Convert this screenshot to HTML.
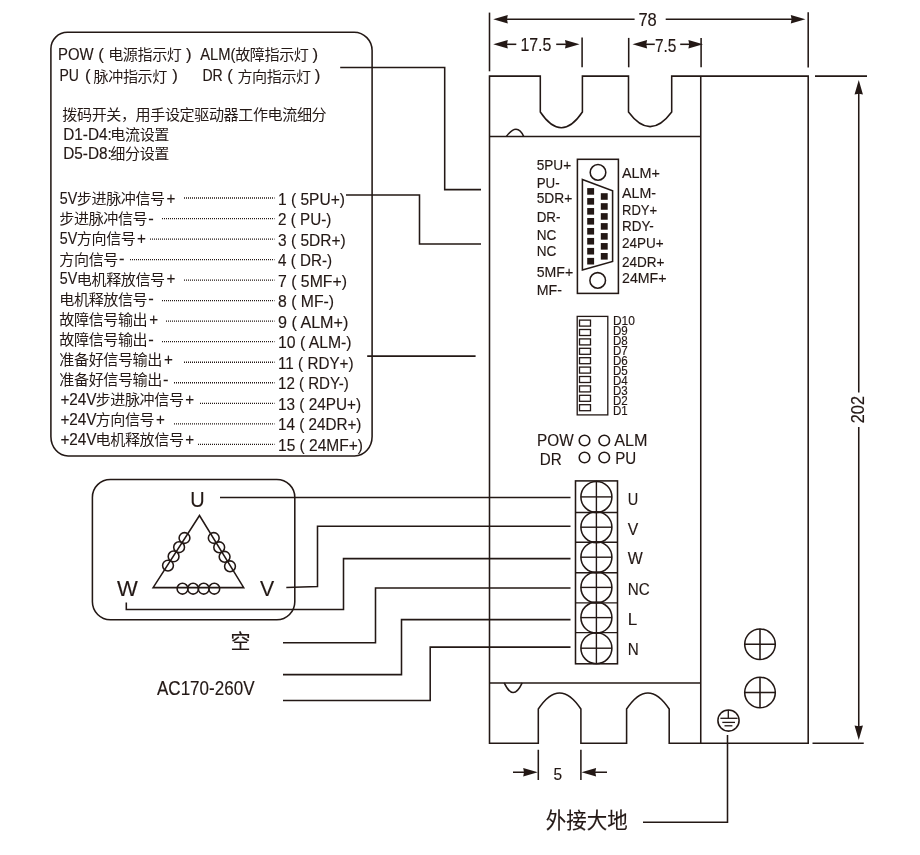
<!DOCTYPE html>
<html lang="zh-CN">
<head>
<meta charset="utf-8">
<title>驱动器接线图</title>
<style>
html,body{margin:0;padding:0;background:#fff;}
body{width:920px;height:855px;overflow:hidden;}
svg{display:block;will-change:transform;}
svg text{font-family:"Liberation Sans","Noto Sans CJK SC",sans-serif;fill:#231815;}
svg line,svg path,svg circle,svg rect{fill:none;stroke:#231815;}
svg .f{fill:#231815;stroke:none;}
svg text{stroke:#231815;stroke-width:0.15px;}
svg text.c{stroke:none;}
</style>
</head>
<body>
<svg width="920" height="855" viewBox="0 0 920 855">
<rect x="0" y="0" width="920" height="855" style="fill:#fff;stroke:none"/>
<path d="M67.4,32.3 H354.1 A18,18.3 0 0 1 372.1,50.6 V436.4 A17.5,19.5 0 0 1 354.6,455.9 H68.1 A17.2,19.5 0 0 1 50.9,436.4 V48.8 A16.5,16.5 0 0 1 67.4,32.3 Z" stroke-width="1.55" />
<text x="58.0" y="60.0" font-size="16.2" textLength="35.6" lengthAdjust="spacingAndGlyphs" >POW</text>
<text x="98.3" y="60.0" font-size="16.2" textLength="5.6" lengthAdjust="spacingAndGlyphs" >(</text>
<text transform="translate(108.2,60.2) scale(1.04,1)" font-size="14.5" letter-spacing="-0.39" class="c">电源指示灯</text>
<text x="185.9" y="60.0" font-size="16.2" textLength="5.6" lengthAdjust="spacingAndGlyphs" >)</text>
<text x="200.3" y="60.0" font-size="16.2" textLength="35.2" lengthAdjust="spacingAndGlyphs" >ALM(</text>
<text transform="translate(235.2,60.2) scale(1.04,1)" font-size="14.5" letter-spacing="-0.39" class="c">故障指示灯</text>
<text x="312.6" y="60.0" font-size="16.2" textLength="5.6" lengthAdjust="spacingAndGlyphs" >)</text>
<text x="59.5" y="81.3" font-size="16.2" textLength="19.5" lengthAdjust="spacingAndGlyphs" >PU</text>
<text x="85.0" y="81.3" font-size="16.2" textLength="5.6" lengthAdjust="spacingAndGlyphs" >(</text>
<text transform="translate(93.6,81.5) scale(1.04,1)" font-size="14.5" letter-spacing="-0.39" class="c">脉冲指示灯</text>
<text x="172.3" y="81.3" font-size="16.2" textLength="5.6" lengthAdjust="spacingAndGlyphs" >)</text>
<text x="202.4" y="81.3" font-size="16.2" textLength="20.3" lengthAdjust="spacingAndGlyphs" >DR</text>
<text x="227.2" y="81.3" font-size="16.2" textLength="5.6" lengthAdjust="spacingAndGlyphs" >(</text>
<text transform="translate(237.4,81.5) scale(1.04,1)" font-size="14.5" letter-spacing="-0.39" class="c">方向指示灯</text>
<text x="314.8" y="81.3" font-size="16.2" textLength="5.6" lengthAdjust="spacingAndGlyphs" >)</text>
<text transform="translate(62.3,120.3) scale(1.04,1)" font-size="14.5" letter-spacing="-0.39" class="c">拨码开关，用手设定驱动器工作电流细分</text>
<text x="63.2" y="139.7" font-size="16.2" textLength="48.7" lengthAdjust="spacingAndGlyphs" >D1-D4:</text>
<text transform="translate(110.3,139.9) scale(1.04,1)" font-size="14.5" letter-spacing="-0.39" class="c">电流设置</text>
<text x="63.2" y="158.7" font-size="16.2" textLength="48.7" lengthAdjust="spacingAndGlyphs" >D5-D8:</text>
<text transform="translate(110.3,158.9) scale(1.04,1)" font-size="14.5" letter-spacing="-0.39" class="c">细分设置</text>
<text x="59.8" y="204.1" font-size="16.2" textLength="17.5" lengthAdjust="spacingAndGlyphs" >5V</text>
<text transform="translate(76.8,204.3) scale(1.04,1)" font-size="14.5" letter-spacing="-0.39" class="c">步进脉冲信号</text>
<text x="166.42" y="204.1" font-size="16.2" textLength="8.9" lengthAdjust="spacingAndGlyphs" >+</text>
<line x1="184" y1="198.0" x2="274.5" y2="198.0" stroke-width="1.3" stroke-dasharray="1 1"/>
<text x="278.0" y="204.5" font-size="17" textLength="67.0" lengthAdjust="spacingAndGlyphs" >1 ( 5PU+)</text>
<text transform="translate(59.3,224.37) scale(1.04,1)" font-size="14.5" letter-spacing="-0.39" class="c">步进脉冲信号</text>
<text x="148.32" y="224.17" font-size="16.2" textLength="5.5" lengthAdjust="spacingAndGlyphs" >-</text>
<line x1="162" y1="218.53" x2="274.5" y2="218.53" stroke-width="1.3" stroke-dasharray="1 1"/>
<text x="278.0" y="225.03" font-size="17" textLength="53.3" lengthAdjust="spacingAndGlyphs" >2 ( PU-)</text>
<text x="59.8" y="244.24" font-size="16.2" textLength="17.5" lengthAdjust="spacingAndGlyphs" >5V</text>
<text transform="translate(76.8,244.44) scale(1.04,1)" font-size="14.5" letter-spacing="-0.39" class="c">方向信号</text>
<text x="137.08" y="244.24" font-size="16.2" textLength="8.9" lengthAdjust="spacingAndGlyphs" >+</text>
<line x1="150" y1="239.06" x2="274.5" y2="239.06" stroke-width="1.3" stroke-dasharray="1 1"/>
<text x="278.0" y="245.56" font-size="17" textLength="67.8" lengthAdjust="spacingAndGlyphs" >3 ( 5DR+)</text>
<text transform="translate(59.3,264.51) scale(1.04,1)" font-size="14.5" letter-spacing="-0.39" class="c">方向信号</text>
<text x="118.98" y="264.31" font-size="16.2" textLength="5.5" lengthAdjust="spacingAndGlyphs" >-</text>
<line x1="130" y1="259.59" x2="274.5" y2="259.59" stroke-width="1.3" stroke-dasharray="1 1"/>
<text x="278.0" y="266.09" font-size="17" textLength="54.1" lengthAdjust="spacingAndGlyphs" >4 ( DR-)</text>
<text x="59.8" y="284.38" font-size="16.2" textLength="17.5" lengthAdjust="spacingAndGlyphs" >5V</text>
<text transform="translate(76.8,284.58) scale(1.04,1)" font-size="14.5" letter-spacing="-0.39" class="c">电机释放信号</text>
<text x="166.42" y="284.38" font-size="16.2" textLength="8.9" lengthAdjust="spacingAndGlyphs" >+</text>
<line x1="184" y1="280.12" x2="274.5" y2="280.12" stroke-width="1.3" stroke-dasharray="1 1"/>
<text x="278.0" y="286.62" font-size="17" textLength="69.0" lengthAdjust="spacingAndGlyphs" >7 ( 5MF+)</text>
<text transform="translate(59.3,304.65) scale(1.04,1)" font-size="14.5" letter-spacing="-0.39" class="c">电机释放信号</text>
<text x="148.32" y="304.45" font-size="16.2" textLength="5.5" lengthAdjust="spacingAndGlyphs" >-</text>
<line x1="162" y1="300.65" x2="274.5" y2="300.65" stroke-width="1.3" stroke-dasharray="1 1"/>
<text x="278.0" y="307.15" font-size="17" textLength="56.0" lengthAdjust="spacingAndGlyphs" >8 ( MF-)</text>
<text transform="translate(59.3,324.72) scale(1.04,1)" font-size="14.5" letter-spacing="-0.39" class="c">故障信号输出</text>
<text x="149.22" y="324.52" font-size="16.2" textLength="8.9" lengthAdjust="spacingAndGlyphs" >+</text>
<line x1="166" y1="321.18" x2="274.5" y2="321.18" stroke-width="1.3" stroke-dasharray="1 1"/>
<text x="278.0" y="327.68" font-size="17" textLength="70.3" lengthAdjust="spacingAndGlyphs" >9 ( ALM+)</text>
<text transform="translate(59.3,344.79) scale(1.04,1)" font-size="14.5" letter-spacing="-0.39" class="c">故障信号输出</text>
<text x="148.32" y="344.59" font-size="16.2" textLength="5.5" lengthAdjust="spacingAndGlyphs" >-</text>
<line x1="162" y1="341.71" x2="274.5" y2="341.71" stroke-width="1.3" stroke-dasharray="1 1"/>
<text x="278.0" y="348.21" font-size="17" textLength="73.6" lengthAdjust="spacingAndGlyphs" >10 ( ALM-)</text>
<text transform="translate(59.3,364.86) scale(1.04,1)" font-size="14.5" letter-spacing="-0.39" class="c">准备好信号输出</text>
<text x="163.89" y="364.66" font-size="16.2" textLength="8.9" lengthAdjust="spacingAndGlyphs" >+</text>
<line x1="184" y1="362.24" x2="274.5" y2="362.24" stroke-width="1.3" stroke-dasharray="1 1"/>
<text x="278.0" y="368.74" font-size="17" textLength="75.6" lengthAdjust="spacingAndGlyphs" >11 ( RDY+)</text>
<text transform="translate(59.3,384.93) scale(1.04,1)" font-size="14.5" letter-spacing="-0.39" class="c">准备好信号输出</text>
<text x="162.99" y="384.73" font-size="16.2" textLength="5.5" lengthAdjust="spacingAndGlyphs" >-</text>
<line x1="174" y1="382.77" x2="274.5" y2="382.77" stroke-width="1.3" stroke-dasharray="1 1"/>
<text x="278.0" y="389.27" font-size="17" textLength="70.7" lengthAdjust="spacingAndGlyphs" >12 ( RDY-)</text>
<text x="60.4" y="404.8" font-size="16.2" textLength="36.2" lengthAdjust="spacingAndGlyphs" >+24V</text>
<text transform="translate(95.6,405.0) scale(1.04,1)" font-size="14.5" letter-spacing="-0.39" class="c">步进脉冲信号</text>
<text x="185.22" y="404.8" font-size="16.2" textLength="8.9" lengthAdjust="spacingAndGlyphs" >+</text>
<line x1="200" y1="403.3" x2="274.5" y2="403.3" stroke-width="1.3" stroke-dasharray="1 1"/>
<text x="278.0" y="409.8" font-size="17" textLength="83.0" lengthAdjust="spacingAndGlyphs" >13 ( 24PU+)</text>
<text x="60.4" y="424.87" font-size="16.2" textLength="36.2" lengthAdjust="spacingAndGlyphs" >+24V</text>
<text transform="translate(95.6,425.07) scale(1.04,1)" font-size="14.5" letter-spacing="-0.39" class="c">方向信号</text>
<text x="155.88" y="424.87" font-size="16.2" textLength="8.9" lengthAdjust="spacingAndGlyphs" >+</text>
<line x1="174" y1="423.83" x2="274.5" y2="423.83" stroke-width="1.3" stroke-dasharray="1 1"/>
<text x="278.0" y="430.33" font-size="17" textLength="83.4" lengthAdjust="spacingAndGlyphs" >14 ( 24DR+)</text>
<text x="60.4" y="444.94" font-size="16.2" textLength="36.2" lengthAdjust="spacingAndGlyphs" >+24V</text>
<text transform="translate(95.6,445.14) scale(1.04,1)" font-size="14.5" letter-spacing="-0.39" class="c">电机释放信号</text>
<text x="185.22" y="444.94" font-size="16.2" textLength="8.9" lengthAdjust="spacingAndGlyphs" >+</text>
<line x1="198" y1="444.36" x2="274.5" y2="444.36" stroke-width="1.3" stroke-dasharray="1 1"/>
<text x="278.0" y="450.86" font-size="17" textLength="85.0" lengthAdjust="spacingAndGlyphs" >15 ( 24MF+)</text>
<path d="M340.2,67.5 H444.7 V189.6 H481" stroke-width="1.55" />
<path d="M346,195 H419.5 V244 H481" stroke-width="1.55" />
<path d="M367.2,356.1 H475.6" stroke-width="1.55" />
<rect x="92.4" y="479.4" width="202.4" height="140.3" rx="18" stroke-width="1.55" />
<text x="197.5" y="507" font-size="22" textLength="14.4" lengthAdjust="spacingAndGlyphs" text-anchor="middle" >U</text>
<text x="127.3" y="595.8" font-size="22" textLength="20.8" lengthAdjust="spacingAndGlyphs" text-anchor="middle" >W</text>
<text x="267.1" y="595.8" font-size="22" textLength="14.2" lengthAdjust="spacingAndGlyphs" text-anchor="middle" >V</text>
<path d="M199.5,515.5 L153.1,587.6 L243.7,587.6 Z" stroke-width="1.55" />
<circle cx="182.5" cy="588.7" r="5.4" stroke-width="1.55" />
<circle cx="193.1" cy="588.7" r="5.4" stroke-width="1.55" />
<circle cx="203.7" cy="588.7" r="5.4" stroke-width="1.55" />
<circle cx="214.3" cy="588.7" r="5.4" stroke-width="1.55" />
<circle cx="184.5" cy="538" r="5.4" stroke-width="1.55" />
<circle cx="179.1" cy="547.2" r="5.4" stroke-width="1.55" />
<circle cx="173.6" cy="556.4" r="5.4" stroke-width="1.55" />
<circle cx="168" cy="565.6" r="5.4" stroke-width="1.55" />
<circle cx="213.75" cy="538" r="5.4" stroke-width="1.55" />
<circle cx="219.2" cy="547.3" r="5.4" stroke-width="1.55" />
<circle cx="224.6" cy="556.8" r="5.4" stroke-width="1.55" />
<circle cx="230" cy="566.3" r="5.4" stroke-width="1.55" />
<path d="M220,497.5 H570.5" stroke-width="1.55" />
<path d="M286.3,587.4 L317.5,586.6 V526.3 H570.5" stroke-width="1.55" />
<path d="M126.3,602.5 V609.5 H343.5 V558.6 H570.5" stroke-width="1.55" />
<text x="240.4" y="649.3" font-size="20" text-anchor="middle" >空</text>
<path d="M283,642.7 H375.5 V588 H570.5" stroke-width="1.55" />
<path d="M283,674.6 H401.5 V619.6 H570.5" stroke-width="1.55" />
<text x="157" y="694.9" font-size="19.3" textLength="97.5" lengthAdjust="spacingAndGlyphs" >AC170-260V</text>
<path d="M283,700.4 H430.2 V647.1 H570.5" stroke-width="1.55" />
<path d="M489.5,76.1 H540.3 V112 Q561.35,143.40 582.4,112 V76.1 H628.5 V112 Q650.10,141.20 671.7,112 V76.1 H808.2 V743.3 H669.2 V709 Q647.90,676.80 626.6,709 V743.3 H580.9 V709 Q559.60,676.80 538.3,709 V743.3 H489.5 Z" stroke-width="1.55" />
<line x1="489.5" y1="136.4" x2="700.75" y2="136.4" stroke-width="1.55" />
<line x1="489.5" y1="682.9" x2="700.75" y2="682.9" stroke-width="1.55" />
<line x1="700.75" y1="76.1" x2="700.75" y2="743.3" stroke-width="1.55" />
<path d="M506.4,136.4 C509.6,132.0 513.0,129.2 516,129.2 C519.2,129.2 521.8,132.0 523.6,136.4" stroke-width="1.55" />
<path d="M504.2,682.9 Q513.2,702.2 522.2,682.9" stroke-width="1.55" />
<rect x="577.4" y="159.3" width="41" height="134.1" rx="0" stroke-width="1.55" />
<circle cx="598" cy="172.4" r="7.8" stroke-width="1.55" />
<circle cx="597.7" cy="280.4" r="7.8" stroke-width="1.55" />
<path d="M582.4,179.4 L612.6,190.8 V261.4 L582.4,270 Z" stroke-width="1.55" />
<rect x="587.2" y="188.10" width="6.9" height="6.6" class="f"/>
<rect x="587.2" y="198.07" width="6.9" height="6.6" class="f"/>
<rect x="587.2" y="208.04" width="6.9" height="6.6" class="f"/>
<rect x="587.2" y="218.01" width="6.9" height="6.6" class="f"/>
<rect x="587.2" y="227.98" width="6.9" height="6.6" class="f"/>
<rect x="587.2" y="237.95" width="6.9" height="6.6" class="f"/>
<rect x="587.2" y="247.92" width="6.9" height="6.6" class="f"/>
<rect x="587.2" y="257.89" width="6.9" height="6.6" class="f"/>
<rect x="600.8" y="193.20" width="6.9" height="6.6" class="f"/>
<rect x="600.8" y="203.17" width="6.9" height="6.6" class="f"/>
<rect x="600.8" y="213.14" width="6.9" height="6.6" class="f"/>
<rect x="600.8" y="223.11" width="6.9" height="6.6" class="f"/>
<rect x="600.8" y="233.08" width="6.9" height="6.6" class="f"/>
<rect x="600.8" y="243.05" width="6.9" height="6.6" class="f"/>
<rect x="600.8" y="253.02" width="6.9" height="6.6" class="f"/>
<text x="536.7" y="170.05" font-size="15.3" textLength="34.5" lengthAdjust="spacingAndGlyphs" >5PU+</text>
<text x="536.7" y="187.85" font-size="15.3" textLength="23" lengthAdjust="spacingAndGlyphs" >PU-</text>
<text x="536.7" y="203.35" font-size="15.3" textLength="35.6" lengthAdjust="spacingAndGlyphs" >5DR+</text>
<text x="536.7" y="221.75" font-size="15.3" textLength="23.8" lengthAdjust="spacingAndGlyphs" >DR-</text>
<text x="536.7" y="240.15" font-size="15.3" textLength="19.6" lengthAdjust="spacingAndGlyphs" >NC</text>
<text x="536.7" y="256.25" font-size="15.3" textLength="19.6" lengthAdjust="spacingAndGlyphs" >NC</text>
<text x="536.7" y="277.45" font-size="15.3" textLength="36.5" lengthAdjust="spacingAndGlyphs" >5MF+</text>
<text x="536.7" y="295.25" font-size="15.3" textLength="25.2" lengthAdjust="spacingAndGlyphs" >MF-</text>
<text x="622" y="178.45" font-size="15.3" textLength="38" lengthAdjust="spacingAndGlyphs" >ALM+</text>
<text x="622" y="198.25" font-size="15.3" textLength="34" lengthAdjust="spacingAndGlyphs" >ALM-</text>
<text x="622" y="215.25" font-size="15.3" textLength="35.2" lengthAdjust="spacingAndGlyphs" >RDY+</text>
<text x="622" y="231.35" font-size="15.3" textLength="31.7" lengthAdjust="spacingAndGlyphs" >RDY-</text>
<text x="622" y="248.35" font-size="15.3" textLength="41.7" lengthAdjust="spacingAndGlyphs" >24PU+</text>
<text x="622" y="267.45" font-size="15.3" textLength="42.5" lengthAdjust="spacingAndGlyphs" >24DR+</text>
<text x="622" y="283.05" font-size="15.3" textLength="44.5" lengthAdjust="spacingAndGlyphs" >24MF+</text>
<rect x="577.2" y="316.4" width="30.6" height="98.5" rx="0" stroke-width="1.3" />
<rect x="579.5" y="320.1" width="11.0" height="6.0" rx="0" stroke-width="1.3" />
<rect x="579.5" y="329.5" width="11.0" height="6.0" rx="0" stroke-width="1.3" />
<rect x="579.5" y="338.9" width="11.0" height="6.0" rx="0" stroke-width="1.3" />
<rect x="579.5" y="348.3" width="11.0" height="6.0" rx="0" stroke-width="1.3" />
<rect x="579.5" y="357.7" width="11.0" height="6.0" rx="0" stroke-width="1.3" />
<rect x="579.5" y="367.1" width="11.0" height="6.0" rx="0" stroke-width="1.3" />
<rect x="579.5" y="376.5" width="11.0" height="6.0" rx="0" stroke-width="1.3" />
<rect x="579.5" y="385.9" width="11.0" height="6.0" rx="0" stroke-width="1.3" />
<rect x="579.5" y="395.3" width="11.0" height="6.0" rx="0" stroke-width="1.3" />
<rect x="579.5" y="404.7" width="11.0" height="6.0" rx="0" stroke-width="1.3" />
<text x="612.9" y="324.6" font-size="12.3" textLength="22" lengthAdjust="spacingAndGlyphs" >D10</text>
<text x="612.9" y="334.6" font-size="12.3" textLength="14.8" lengthAdjust="spacingAndGlyphs" >D9</text>
<text x="612.9" y="344.6" font-size="12.3" textLength="14.8" lengthAdjust="spacingAndGlyphs" >D8</text>
<text x="612.9" y="354.6" font-size="12.3" textLength="14.8" lengthAdjust="spacingAndGlyphs" >D7</text>
<text x="612.9" y="364.6" font-size="12.3" textLength="14.8" lengthAdjust="spacingAndGlyphs" >D6</text>
<text x="612.9" y="374.6" font-size="12.3" textLength="14.8" lengthAdjust="spacingAndGlyphs" >D5</text>
<text x="612.9" y="384.6" font-size="12.3" textLength="14.8" lengthAdjust="spacingAndGlyphs" >D4</text>
<text x="612.9" y="394.6" font-size="12.3" textLength="14.8" lengthAdjust="spacingAndGlyphs" >D3</text>
<text x="612.9" y="404.6" font-size="12.3" textLength="14.8" lengthAdjust="spacingAndGlyphs" >D2</text>
<text x="612.9" y="414.6" font-size="12.3" textLength="14.8" lengthAdjust="spacingAndGlyphs" >D1</text>
<circle cx="584.5" cy="440.5" r="5.3" stroke-width="1.55" />
<circle cx="604.25" cy="440.5" r="5.3" stroke-width="1.55" />
<circle cx="584.5" cy="457.5" r="5.3" stroke-width="1.55" />
<circle cx="604.25" cy="457.5" r="5.3" stroke-width="1.55" />
<text x="537.0" y="445.9" font-size="16.7" textLength="36.6" lengthAdjust="spacingAndGlyphs" >POW</text>
<text x="614.3" y="445.9" font-size="16.7" textLength="33.2" lengthAdjust="spacingAndGlyphs" >ALM</text>
<text x="539.8" y="464.7" font-size="16.7" textLength="22" lengthAdjust="spacingAndGlyphs" >DR</text>
<text x="615.2" y="463.5" font-size="16.7" textLength="21" lengthAdjust="spacingAndGlyphs" >PU</text>
<rect x="575.5" y="480.9" width="42.0" height="182.9" rx="0" stroke-width="1.55" />
<line x1="575.5" y1="512.5" x2="617.5" y2="512.5" stroke-width="1.4" />
<line x1="575.5" y1="542.2" x2="617.5" y2="542.2" stroke-width="1.4" />
<line x1="575.5" y1="572.7" x2="617.5" y2="572.7" stroke-width="1.4" />
<line x1="575.5" y1="602.9" x2="617.5" y2="602.9" stroke-width="1.4" />
<line x1="575.5" y1="632.6" x2="617.5" y2="632.6" stroke-width="1.4" />
<line x1="596.4" y1="480.9" x2="596.4" y2="663.8" stroke-width="1.4" />
<circle cx="596.4" cy="496.9" r="15.5" stroke-width="1.55" />
<line x1="581" y1="496.9" x2="612" y2="496.9" stroke-width="1.4" />
<circle cx="596.4" cy="527.2" r="15.5" stroke-width="1.55" />
<line x1="581" y1="527.2" x2="612" y2="527.2" stroke-width="1.4" />
<circle cx="596.4" cy="557.2" r="15.5" stroke-width="1.55" />
<line x1="581" y1="557.2" x2="612" y2="557.2" stroke-width="1.4" />
<circle cx="596.4" cy="587.4" r="15.5" stroke-width="1.55" />
<line x1="581" y1="587.4" x2="612" y2="587.4" stroke-width="1.4" />
<circle cx="596.4" cy="617.6" r="15.5" stroke-width="1.55" />
<line x1="581" y1="617.6" x2="612" y2="617.6" stroke-width="1.4" />
<circle cx="596.4" cy="648.2" r="15.5" stroke-width="1.55" />
<line x1="581" y1="648.2" x2="612" y2="648.2" stroke-width="1.4" />
<text x="627.8" y="504.9" font-size="17" textLength="10.5" lengthAdjust="spacingAndGlyphs" >U</text>
<text x="627.8" y="534.5" font-size="17" textLength="10.5" lengthAdjust="spacingAndGlyphs" >V</text>
<text x="627.8" y="564.2" font-size="17" textLength="15" lengthAdjust="spacingAndGlyphs" >W</text>
<text x="627.8" y="594.5" font-size="17" textLength="22" lengthAdjust="spacingAndGlyphs" >NC</text>
<text x="627.8" y="624.7" font-size="17" >L</text>
<text x="627.8" y="654.7" font-size="17" textLength="11" lengthAdjust="spacingAndGlyphs" >N</text>
<circle cx="760" cy="644.25" r="15.3" stroke-width="1.55" />
<line x1="744.5" y1="644.25" x2="775.5" y2="644.25" stroke-width="1.55" />
<line x1="760" y1="628.75" x2="760" y2="659.75" stroke-width="1.55" />
<circle cx="760" cy="692.5" r="15.3" stroke-width="1.55" />
<line x1="744.5" y1="692.5" x2="775.5" y2="692.5" stroke-width="1.55" />
<line x1="760" y1="677.0" x2="760" y2="708.0" stroke-width="1.55" />
<circle cx="728.5" cy="720.5" r="10.6" stroke-width="1.55" />
<line x1="728.3" y1="710" x2="728.3" y2="718.3" stroke-width="1.3" />
<line x1="720.4" y1="718.3" x2="737.6" y2="718.3" stroke-width="1.3" />
<line x1="722.3" y1="722.4" x2="735.0" y2="722.4" stroke-width="1.3" />
<line x1="724.5" y1="725.8" x2="732.4" y2="725.8" stroke-width="1.3" />
<path d="M727.5,735 V822.3 H643" stroke-width="1.55" />
<text x="545.8" y="828.3" font-size="21.5" textLength="81.8" lengthAdjust="spacingAndGlyphs" >外接大地</text>
<line x1="489.5" y1="12.6" x2="489.5" y2="71.3" stroke-width="1.55" />
<line x1="808.2" y1="12.2" x2="808.2" y2="67.5" stroke-width="1.55" />
<line x1="500" y1="19.3" x2="634.6" y2="19.3" stroke-width="1.55" />
<line x1="665.7" y1="19.3" x2="798" y2="19.3" stroke-width="1.55" />
<path d="M493.2,19.3 L507.80,15.10 L507.00,19.30 L507.80,23.50 Z" class="f"/>
<path d="M805.4,19.3 L790.80,23.50 L791.60,19.30 L790.80,15.10 Z" class="f"/>
<text x="647.6" y="25.6" font-size="17.5" textLength="18.4" lengthAdjust="spacingAndGlyphs" text-anchor="middle" >78</text>
<line x1="582.1" y1="37.5" x2="582.1" y2="67.3" stroke-width="1.55" />
<line x1="500" y1="44.3" x2="516.3" y2="44.3" stroke-width="1.55" />
<line x1="556.2" y1="44.3" x2="572" y2="44.3" stroke-width="1.55" />
<path d="M493.2,44.3 L507.80,40.10 L507.00,44.30 L507.80,48.50 Z" class="f"/>
<path d="M579.6,44.3 L565.00,48.50 L565.80,44.30 L565.00,40.10 Z" class="f"/>
<text x="535.9" y="50.6" font-size="17.5" textLength="31" lengthAdjust="spacingAndGlyphs" text-anchor="middle" >17.5</text>
<line x1="628.7" y1="37.9" x2="628.7" y2="67.3" stroke-width="1.55" />
<line x1="701.1" y1="37.9" x2="701.1" y2="67.3" stroke-width="1.55" />
<line x1="640" y1="44.3" x2="654.8" y2="44.3" stroke-width="1.55" />
<line x1="680.2" y1="44.3" x2="695" y2="44.3" stroke-width="1.55" />
<path d="M632.5,44.3 L647.10,40.10 L646.30,44.30 L647.10,48.50 Z" class="f"/>
<path d="M703,44.3 L688.40,48.50 L689.20,44.30 L688.40,40.10 Z" class="f"/>
<text x="665.7" y="52.1" font-size="17.5" textLength="21.5" lengthAdjust="spacingAndGlyphs" text-anchor="middle" >7.5</text>
<line x1="815" y1="76.1" x2="867" y2="76.1" stroke-width="1.55" />
<line x1="812.5" y1="743.3" x2="863.75" y2="743.3" stroke-width="1.55" />
<line x1="858.75" y1="90" x2="858.75" y2="392.5" stroke-width="1.55" />
<line x1="858.75" y1="427" x2="858.75" y2="730" stroke-width="1.55" />
<path d="M858.75,80 L862.95,94.60 L858.75,93.80 L854.55,94.60 Z" class="f"/>
<path d="M858.75,740 L854.55,725.40 L858.75,726.20 L862.95,725.40 Z" class="f"/>
<text transform="translate(863.9,409.6) rotate(-90)" font-size="18.3" text-anchor="middle" textLength="27.2" lengthAdjust="spacingAndGlyphs">202</text>
<line x1="538.3" y1="749.75" x2="538.3" y2="780" stroke-width="1.55" />
<line x1="580.9" y1="749.75" x2="580.9" y2="780" stroke-width="1.55" />
<line x1="513" y1="772.25" x2="525" y2="772.25" stroke-width="1.55" />
<line x1="594" y1="772.25" x2="607" y2="772.25" stroke-width="1.55" />
<path d="M537.8,772.25 L523.20,776.45 L524.00,772.25 L523.20,768.05 Z" class="f"/>
<path d="M581.5,772.25 L596.10,768.05 L595.30,772.25 L596.10,776.45 Z" class="f"/>
<text x="557.8" y="779.8" font-size="16.5" textLength="8.6" lengthAdjust="spacingAndGlyphs" text-anchor="middle" >5</text>
</svg>
</body>
</html>
